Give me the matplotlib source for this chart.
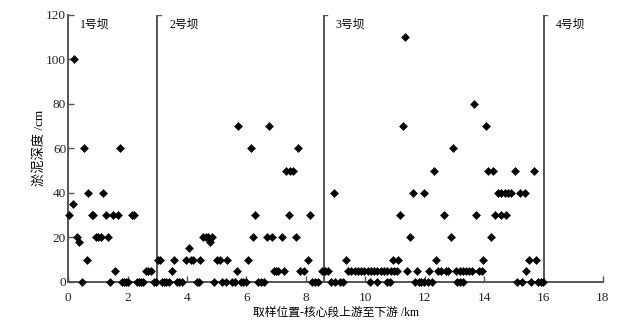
import matplotlib
matplotlib.use('Agg')
import matplotlib.pyplot as plt

plt.rcParams['font.family'] = ['Liberation Serif', 'Noto Sans CJK SC']

# sampling position (km) and sludge depth (cm)
distance_km = [
    # dam 1 reach
    0.03, 0.15, 0.19, 0.30, 0.37, 0.47, 0.53, 0.62, 0.68, 0.79, 0.84, 0.93,
    1.01, 1.09, 1.16, 1.26, 1.35, 1.42, 1.49, 1.58, 1.66, 1.74, 1.80, 1.87,
    1.93, 2.02, 2.13, 2.22, 2.30, 2.38, 2.46, 2.52, 2.62, 2.70, 2.78, 2.88,
    2.96,
    # dam 2 reach
    3.02, 3.09, 3.14, 3.22, 3.30, 3.40, 3.48, 3.56, 3.65, 3.74, 3.83, 3.96,
    4.06, 4.12, 4.21, 4.32, 4.40, 4.45, 4.54, 4.63, 4.71, 4.77, 4.83, 4.90,
    5.01, 5.10, 5.19, 5.30, 5.35, 5.50, 5.61, 5.67, 5.72, 5.80, 5.89, 5.98,
    6.06, 6.14, 6.22, 6.30, 6.39, 6.48, 6.58, 6.68, 6.76, 6.86, 6.92, 7.01,
    7.07, 7.18, 7.26, 7.33, 7.44, 7.46, 7.57, 7.66, 7.74, 7.80, 7.93, 8.06,
    8.13, 8.20, 8.30, 8.40, 8.53,
    # dam 3 reach
    8.64, 8.75, 8.86, 8.95, 8.97, 9.14, 9.25, 9.34, 9.42, 9.53, 9.64, 9.75,
    9.86, 9.97, 10.08, 10.15, 10.19, 10.30, 10.40, 10.41, 10.52, 10.63, 10.73,
    10.74, 10.82, 10.85, 10.94, 10.96, 11.10, 11.06, 11.18, 11.27, 11.35,
    11.41, 11.50, 11.59, 11.67, 11.74, 11.81, 11.89, 11.97, 11.99, 12.11,
    12.15, 12.23, 12.31, 12.39, 12.45, 12.56, 12.64, 12.73, 12.80, 12.87,
    12.95, 13.07, 13.10, 13.18, 13.20, 13.29, 13.30, 13.40, 13.50, 13.60,
    13.65, 13.74, 13.82, 13.92, 13.96, 14.08, 14.13, 14.22, 14.30, 14.38,
    14.47, 14.58, 14.58, 14.69, 14.75, 14.81, 14.92, 15.03, 15.11, 15.20,
    15.26, 15.37, 15.42, 15.50, 15.59, 15.67, 15.76, 15.81, 15.90, 15.98,
]
depth_cm = [
    30, 35, 100, 20, 18, 0, 60, 10, 40, 30, 30, 20,
    20, 20, 40, 30, 20, 0, 30, 5, 30, 60, 0, 0,
    0, 0, 30, 30, 0, 0, 0, 0, 5, 5, 5, 0,
    0,
    10, 10, 0, 0, 0, 0, 5, 10, 0, 0, 0, 10,
    15, 10, 10, 0, 0, 10, 20, 20, 20, 18, 20, 0,
    10, 10, 0, 0, 10, 0, 0, 5, 70, 0, 0, 0,
    10, 60, 20, 30, 0, 0, 0, 20, 70, 20, 5, 5,
    5, 20, 5, 50, 30, 50, 50, 20, 60, 5, 5, 10,
    30, 0, 0, 0, 5,
    5, 5, 0, 40, 0, 0, 0, 10, 5, 5, 5, 5,
    5, 5, 5, 0, 5, 5, 0, 5, 5, 5, 0,
    5, 0, 5, 10, 5, 10, 5, 30, 70, 110,
    5, 20, 40, 0, 5, 0, 0, 0, 40, 0,
    5, 0, 50, 10, 5, 5, 30, 5, 5, 20,
    60, 5, 0, 5, 0, 5, 0, 5, 5, 5,
    80, 30, 5, 5, 10, 70, 50, 20, 50, 30,
    40, 40, 30, 40, 30, 40, 40, 50, 0, 40,
    0, 40, 5, 10, 0, 50, 10, 0, 0, 0,
]

dam_names = ['1号坝', '2号坝', '3号坝', '4号坝']
dam_km = [0.0, 3.0, 8.6, 16.0]

grey = '#555555'

fig = plt.figure(figsize=(6.38, 3.30), dpi=100)
ax = fig.add_axes([0.107, 0.146, 0.838, 0.809])

ax.plot(distance_km, depth_cm, linestyle='none', marker='D', markersize=3.9,
        color='black', markeredgewidth=0.4, clip_on=False, zorder=3)

# dam boundaries
for name, x in zip(dam_names, dam_km):
    if x > 0:
        ax.plot([x, x], [0, 120], color=grey, lw=1.4, zorder=2)
        ax.plot([x, x + 0.12], [120, 120], color=grey, lw=1.0, zorder=2)
    ax.text(x + 0.4, 115.5, name, fontsize=8.5, ha='left', va='center')

ax.set_xlim(0, 18)
ax.set_ylim(0, 120)
ax.set_xticks(range(0, 19, 2))
ax.set_yticks(range(0, 121, 20))

for s in ['top', 'right']:
    ax.spines[s].set_visible(False)
for s in ['left', 'bottom']:
    ax.spines[s].set_color(grey)
    ax.spines[s].set_linewidth(1.4)

ax.tick_params(direction='in', length=4, width=1, color=grey, labelsize=9.5,
               labelcolor='#222222')
ax.tick_params(axis='x', pad=7)
ax.tick_params(axis='y', pad=1.5)

ax.set_xlabel('取样位置-核心段上游至下游 /km', fontsize=8.5, labelpad=2)
ax.set_ylabel('淤泥深度 /cm', fontsize=9.5, labelpad=0)

fig.savefig('out.png', dpi=100)
plt.close()
